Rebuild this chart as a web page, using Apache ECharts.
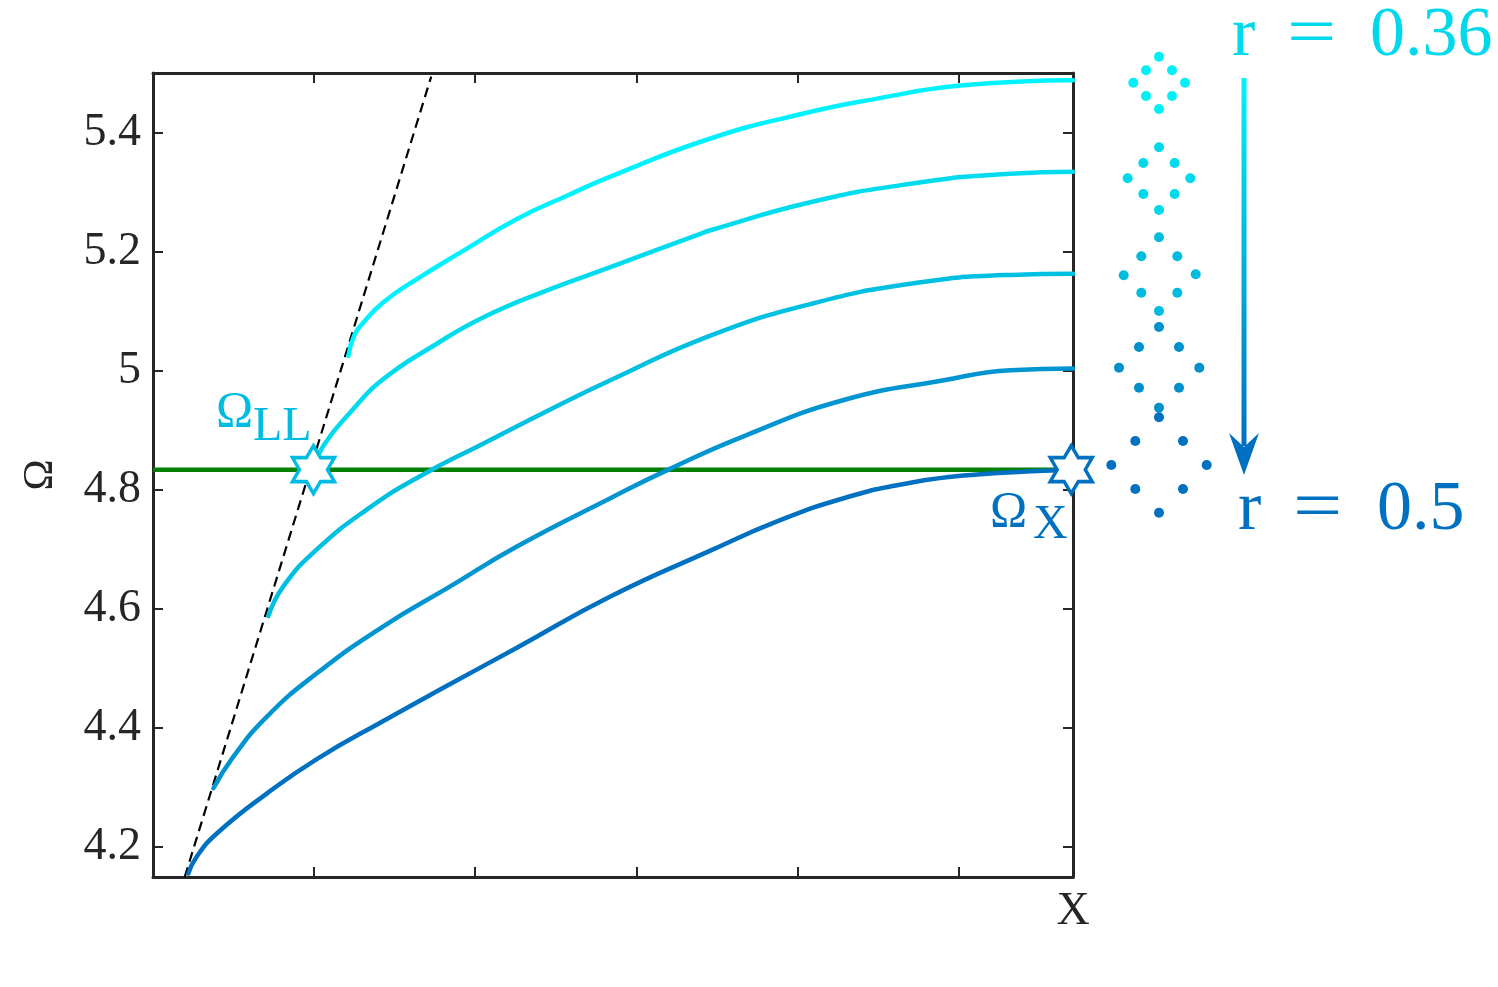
<!DOCTYPE html>
<html><head><meta charset="utf-8">
<script src="https://cdn.jsdelivr.net/npm/echarts@6/dist/echarts.min.js"></script>
<style>html,body{margin:0;padding:0;background:#fff;}#c{width:1498px;height:987px;}</style>
</head><body><div id="c"></div>
<script>
// ---- axes ----
const xMin = 0, xMax = 5.711;
const yMin = 4.15, yMax = 5.5;
const xEndLabel = 'X';
const yName = 'Ω';

// ---- dispersion curves (x, Ω) ----
const curveR036 = [[1.213,5.025],[1.250,5.060],[1.306,5.081],[1.430,5.115],[1.638,5.154],[1.948,5.205],[2.259,5.255],[2.570,5.294],[2.839,5.326],[3.460,5.390],[4.039,5.432],[4.495,5.457],[5.012,5.479],[5.711,5.488]];
const curveR2 = [[0.996,4.834],[1.058,4.874],[1.224,4.930],[1.430,4.986],[1.741,5.042],[2.052,5.090],[2.466,5.137],[2.839,5.174],[3.398,5.230],[3.460,5.236],[4.081,5.283],[4.702,5.314],[5.323,5.331],[5.711,5.334]];
const curveR3 = [[0.716,4.588],[0.809,4.638],[1.017,4.700],[1.327,4.767],[1.658,4.823],[2.052,4.878],[2.466,4.935],[2.839,4.984],[3.460,5.059],[4.081,5.112],[4.702,5.146],[5.323,5.161],[5.711,5.163]];
const curveR4 = [[0.375,4.299],[0.499,4.352],[0.706,4.419],[1.017,4.492],[1.430,4.571],[1.845,4.638],[2.259,4.705],[2.839,4.786],[3.199,4.834],[3.666,4.890],[4.288,4.951],[4.909,4.984],[5.323,5.001],[5.711,5.004]];
const curveR050 = [[0.219,4.156],[0.271,4.184],[0.396,4.223],[0.706,4.290],[1.017,4.348],[1.430,4.412],[1.845,4.474],[2.259,4.535],[2.839,4.621],[3.460,4.698],[3.874,4.747],[4.288,4.786],[4.702,4.812],[5.116,4.826],[5.530,4.832],[5.711,4.834]];
const curves = [curveR036, curveR2, curveR3, curveR4, curveR050];
const curveColors = ['#00F2FF', '#00DCEE', '#00C0E2', '#0094D0', '#0070C0'];

// ---- light line (dashed) and reference level ----
const lightLine = [[0.197,4.15],[1.727,5.494]];
const omegaLevel = 4.834;
const levelLine = [[xMin, omegaLevel],[xMax, omegaLevel]];

// ---- special points ----
const starPoints = [[0.996, 4.834],[5.70, 4.834]];
const starColors = ['#00BCE3', '#0070C0'];

// ---- lattice dots (inset, arbitrary units) ----
const dots1 = [[60,470.3],[47,456.7],[73,456.7],[34.3,444.3],[86,444.3],[47,431],[73,431],[60,418]];
const dots2 = [[60,379.7],[44.3,364],[75.7,364],[28.7,348.7],[91.3,348.7],[44.3,333],[75.7,333],[60,317]];
const dots3 = [[60,289.7],[42.3,270.7],[78.3,270.7],[24.7,251.7],[96.7,252.7],[42.3,234.3],[78.3,234.3],[60,216]];
const dots4 = [[60,200],[40,180],[80,180],[20,159.3],[100.3,159.3],[40,139.3],[80,139.3],[60,119.3]];
const dots5 = [[60,109.7],[36.3,86],[84,86],[12.3,62],[107.7,62],[36.3,38],[84,38],[60,14.3]];
const dotSets = [dots1, dots2, dots3, dots4, dots5];
const dotColors = ['#00F0F8', '#00D8EC', '#00BCE0', '#0090CC', '#0070C0'];

const FONT = 'Liberation Serif';
const AX = '#262626';
const hexagram = 'path://M10,0L12.887,5L18.66,5L15.774,10L18.66,15L12.887,15L10,20L7.113,15L1.34,15L4.226,10L1.34,5L7.113,5Z';

const chart = echarts.init(document.getElementById('c'), null, {renderer: 'canvas'});

const series = [];
series.push({type:'line', data: lightLine, symbol:'none', lineStyle:{color:'#000', width:2.2, type:[10,6]}, z:2});
series.push({type:'line', data: levelLine, symbol:'none', lineStyle:{color:'#007F00', width:4.5}, z:3});
curves.forEach((c,i)=>{
  series.push({type:'line', data:c, symbol:'none', smooth:0.5,
    lineStyle:{color:curveColors[i], width:4.5, cap:'round'}, z:4});
});
series.push({type:'scatter', symbol: hexagram, symbolSize:[42,48], z:10,
  data: starPoints.map((p,i)=>({value:p, itemStyle:{color:'#fff', opacity:1, borderColor:starColors[i], borderWidth:3.5}}))});
dotSets.forEach((d,i)=>{
  series.push({type:'scatter', xAxisIndex:2, yAxisIndex:2, data:d, symbolSize:10,
    itemStyle:{color:dotColors[i], opacity:1}, z:5});
});

const baseX = {type:'value', min:xMin, max:xMax, interval:1, gridIndex:0,
  axisLine:{show:true, onZero:false, lineStyle:{color:AX, width:3}},
  axisTick:{show:true, inside:true, length:10, lineStyle:{color:AX, width:2}},
  splitLine:{show:false}};
const baseY = {type:'value', min:yMin, max:yMax, splitNumber:7, gridIndex:0,
  axisLine:{show:true, onZero:false, lineStyle:{color:AX, width:3}},
  axisTick:{show:true, inside:true, length:10, lineStyle:{color:AX, width:2}},
  splitLine:{show:false}};

function txt(t, x, y, size, color, sx){
  return {type:'text', x:x, y:y, scaleX: sx||1, z:20,
    style:{text:t, x:0, y:0, fill:color, fontFamily:FONT, fontSize:size, verticalAlign:'middle', align:'left'}};
}

const option = {
  animation:false,
  backgroundColor:'#fff',
  grid:[{left:153, top:73, width:920, height:804, containLabel:false},
        {left:1099, top:47, width:120, height:480}],
  xAxis:[
    Object.assign({}, baseX, {position:'bottom',
      axisLabel:{show:true, margin:12, color:AX, fontFamily:FONT, fontSize:46,
        formatter:v=> (v > xMax - 0.01 ? xEndLabel : '')}}),
    Object.assign({}, baseX, {position:'top', axisLabel:{show:false}}),
    {type:'value', gridIndex:1, min:0, max:120, show:false}
  ],
  yAxis:[
    Object.assign({}, baseY, {position:'left', name:yName, nameLocation:'middle', nameGap:91, nameRotate:90,
      nameTextStyle:{color:AX, fontFamily:FONT, fontSize:42},
      axisLabel:{show:true, margin:12, color:AX, fontFamily:FONT, fontSize:46,
        formatter:v=>{ const k=v*5; return Math.abs(k-Math.round(k))<1e-6 ? String(Math.round(v*10)/10) : ''; }}}),
    Object.assign({}, baseY, {position:'right', axisLabel:{show:false}}),
    {type:'value', gridIndex:1, min:0, max:480, show:false}
  ],
  series: series,
  graphic:[
    txt('Ω', 216, 413, 50, '#00BCE3'),
    txt('LL', 253, 427, 48, '#00BCE3'),
    txt('Ω', 990, 513, 50, '#0070C0'),
    txt('X', 1033, 525, 48, '#0070C0'),
    txt('r', 1232, 37, 70, '#00D8EC'),
    txt('=', 1287, 37, 70, '#00D8EC', 1.25),
    txt('0.36', 1370, 37, 70, '#00D8EC'),
    txt('r', 1238, 511, 70, '#0070C0'),
    txt('=', 1293, 511, 70, '#0070C0', 1.25),
    txt('0.5', 1377, 511, 70, '#0070C0'),
    {type:'line', shape:{x1:1244, y1:78, x2:1244, y2:446},
      style:{lineWidth:5, stroke:new echarts.graphic.LinearGradient(1244,78,1244,446,[{offset:0,color:'#00F2FF'},{offset:1,color:'#0070C0'}], true)}},
    {type:'polygon', shape:{points:[[1229,433],[1244,447],[1259,433],[1244,475]]}, style:{fill:'#0070C0'}}
  ]
};
chart.setOption(option);
</script></body></html>
